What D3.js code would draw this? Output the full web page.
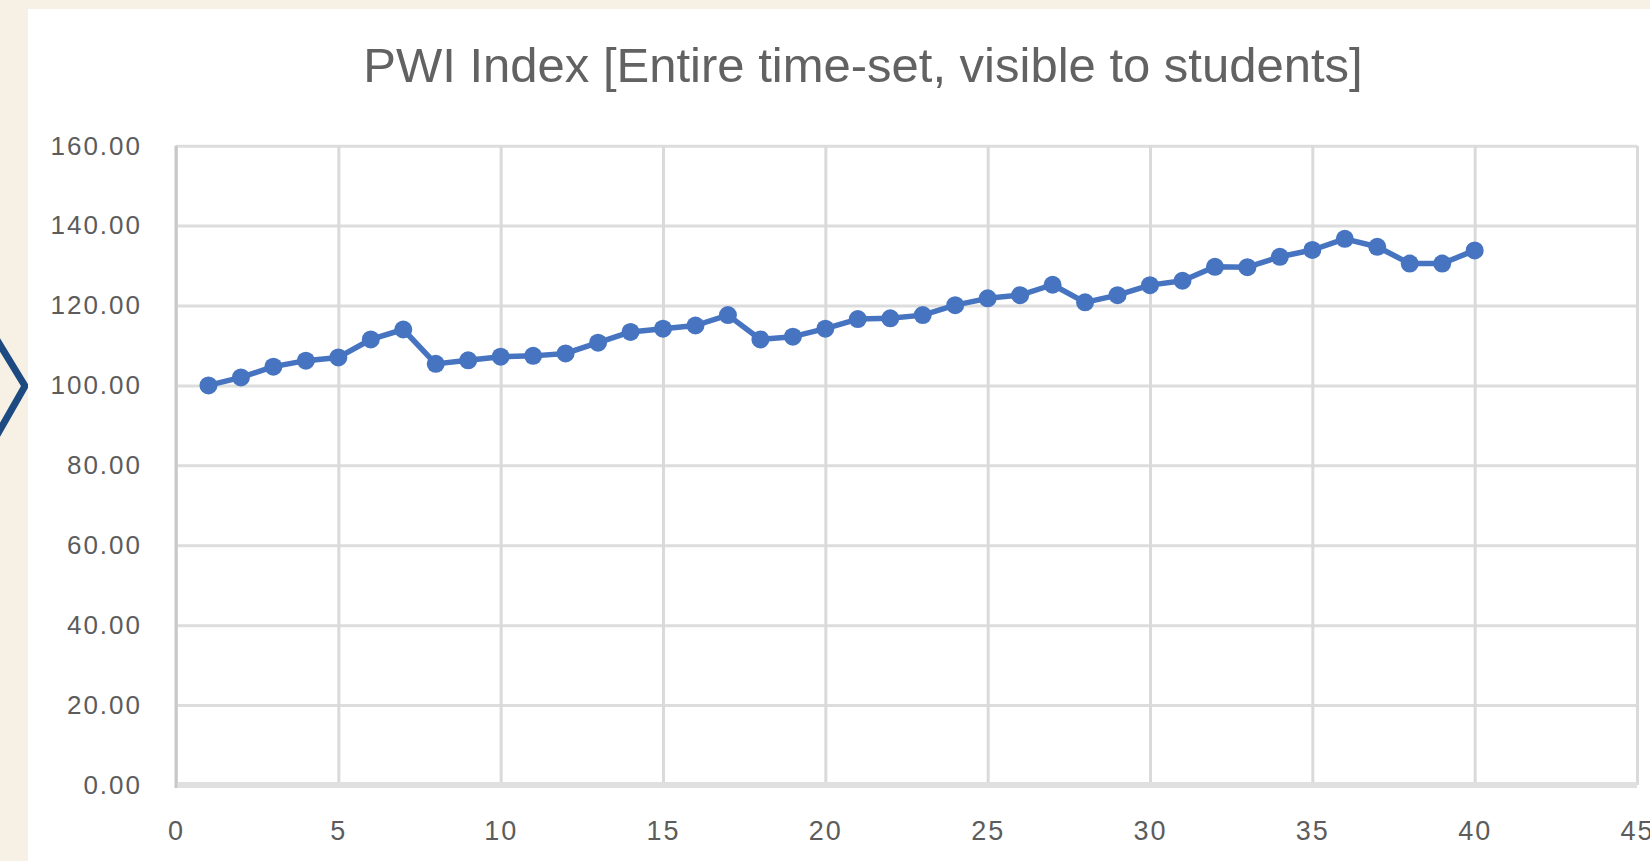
<!DOCTYPE html>
<html>
<head>
<meta charset="utf-8">
<script src="https://cdn.jsdelivr.net/npm/d3@7"></script>
<style>
  html, body { margin: 0; padding: 0; background: #f6f0e5; }
  svg { display: block; }
</style>
</head>
<body>
<svg id="chart" width="1650" height="861"></svg>
<script>
// ---- data ----
const chartTitle = "PWI Index [Entire time-set, visible to students]";
const periods = [1,2,3,4,5,6,7,8,9,10,11,12,13,14,15,16,17,18,19,20,21,22,23,24,25,26,27,28,29,30,31,32,33,34,35,36,37,38,39,40];
const pwiValues = [100.0,102.0,104.7,106.2,107.0,111.5,114.0,105.4,106.3,107.2,107.4,108.0,110.7,113.4,114.2,115.0,117.6,111.5,112.2,114.2,116.6,116.8,117.6,120.1,121.8,122.6,125.2,120.8,122.6,125.1,126.2,129.7,129.6,132.2,133.9,136.7,134.7,130.5,130.5,133.8];
const xTickValues = [0,5,10,15,20,25,30,35,40,45];
const yTickValues = [0,20,40,60,80,100,120,140,160];

// ---- layout ----
const W = 1650, H = 861;
const plot = { left: 176, right: 1637, top: 145.7, bottom: 785 };
const svg = d3.select("#chart");

// page background + decorative chevron + white chart panel
svg.append("rect").attr("x", 0).attr("y", 0).attr("width", W).attr("height", H).attr("fill", "#f6f0e5");
svg.append("path")
  .attr("d", d3.line()([[-3, 340], [25, 386], [-3, 435]]))
  .attr("fill", "none").attr("stroke", "#1d4a80").attr("stroke-width", 7);
svg.append("rect").attr("x", 28).attr("y", 9).attr("width", W - 28).attr("height", H - 9).attr("fill", "#ffffff");

const x = d3.scaleLinear().domain([0, 45]).range([plot.left, plot.right]);
const y = d3.scaleLinear().domain([0, 160]).range([plot.bottom, plot.top]);

const labelColor = "#5c5c5c";
const fontFamily = "'Liberation Sans', Arial, sans-serif";

// horizontal gridlines + y labels
const yAxis = svg.append("g")
  .attr("transform", `translate(${plot.left},0)`)
  .call(d3.axisLeft(y).tickValues(yTickValues).tickFormat(d3.format(".2f"))
        .tickSize(-(plot.right - plot.left)).tickPadding(34));
yAxis.select(".domain").remove();
yAxis.selectAll(".tick line").attr("stroke", "#dddddd").attr("stroke-width", 3);
yAxis.selectAll(".tick text")
  .attr("fill", labelColor).attr("font-family", fontFamily).attr("font-size", 26)
  .attr("letter-spacing", "2px");

// vertical gridlines + x labels
const xAxis = svg.append("g")
  .attr("transform", `translate(0,${plot.bottom})`)
  .call(d3.axisBottom(x).tickValues(xTickValues).tickFormat(d3.format("d"))
        .tickSize(-(plot.bottom - plot.top)).tickPadding(36));
xAxis.select(".domain").remove();
xAxis.selectAll(".tick line").attr("stroke", "#dadada").attr("stroke-width", 3);
xAxis.selectAll(".tick text")
  .attr("fill", labelColor).attr("font-family", fontFamily).attr("font-size", 27)
  .attr("letter-spacing", "2px");

// axis lines
svg.append("line")
  .attr("x1", x(0)).attr("x2", x(45)).attr("y1", y(0)).attr("y2", y(0))
  .attr("stroke", "#e0e0e0").attr("stroke-width", 6);
svg.append("line")
  .attr("x1", x(0)).attr("x2", x(0)).attr("y1", y(160)).attr("y2", y(0) + 3)
  .attr("stroke", "#c8c8c8").attr("stroke-width", 3);

// title
svg.append("text")
  .attr("x", 863).attr("y", 82)
  .attr("text-anchor", "middle")
  .attr("font-family", fontFamily).attr("font-size", 49)
  .attr("fill", "#626262")
  .text(chartTitle);

// series
const series = periods.map((p, i) => ({ p, v: pwiValues[i] }));
const lineGen = d3.line().x(d => x(d.p)).y(d => y(d.v));
svg.append("path")
  .datum(series)
  .attr("d", lineGen)
  .attr("fill", "none")
  .attr("stroke", "#4674c0")
  .attr("stroke-width", 5.5)
  .attr("stroke-linejoin", "round");
svg.append("g").selectAll("circle")
  .data(series)
  .join("circle")
  .attr("cx", d => x(d.p))
  .attr("cy", d => y(d.v))
  .attr("r", 9)
  .attr("fill", "#4674c0");
</script>
</body>
</html>
